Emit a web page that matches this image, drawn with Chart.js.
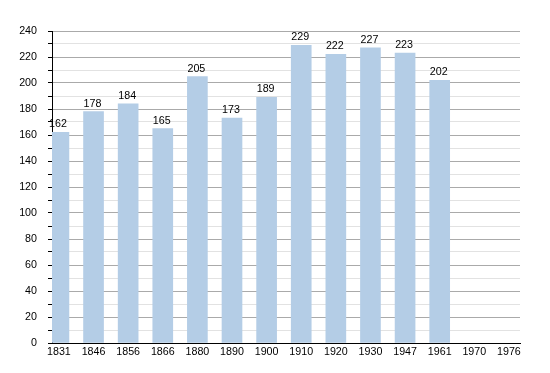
<!DOCTYPE html>
<html>
<head>
<meta charset="utf-8">
<script src="https://cdn.jsdelivr.net/npm/chart.js@4/dist/chart.umd.min.js"></script>
<style>
	html, body { margin: 0; padding: 0; background: #fff; }
	#wrap { width: 550px; height: 373px; }
</style>
</head>
<body>
<div id="wrap"><canvas id="chart"></canvas></div>
<script>
const years = ["1831", "1846", "1856", "1866", "1880", "1890", "1900", "1910", "1920", "1930", "1947", "1961", "1970", "1976"];
const population = [162, 178, 184, 165, 205, 173, 189, 229, 222, 227, 223, 202, null, null];
const yTicks = [0, 20, 40, 60, 80, 100, 120, 140, 160, 180, 200, 220, 240];

const points = years.map((y, i) => ({ x: i, y: population[i] }));
const FONT = "'Liberation Sans', Arial, sans-serif";

const valueLabels = {
	id: "valueLabels",
	afterDatasetsDraw(chart) {
		const ctx = chart.ctx;
		const meta = chart.getDatasetMeta(0);
		ctx.save();
		ctx.font = "10.7px " + FONT;
		ctx.fillStyle = "#000";
		ctx.textAlign = "center";
		ctx.textBaseline = "alphabetic";
		meta.data.forEach((bar, i) => {
			if (population[i] == null) return;
			ctx.fillText(String(population[i]), bar.x - 1, bar.y - 5);
		});
		ctx.restore();
	},
};

new Chart(document.getElementById("chart").getContext("2d"), {
	type: "bar",
	data: {
		datasets: [
			{
				data: points,
				backgroundColor: "#b4cde6",
				borderWidth: 0,
				barThickness: 20,
			},
		],
	},
	plugins: [valueLabels],
	options: {
		responsive: true,
		maintainAspectRatio: false,
		animation: false,
		layout: { padding: { top: 31, right: 30, left: 0, bottom: 0 } },
		plugins: {
			legend: { display: false },
			tooltip: { enabled: false },
		},
		scales: {
			x: {
				type: "linear",
				offset: false,
				min: -0.2,
				max: 13.32,
				afterFit: scale => { scale.height = 30; },
				grid: { display: false, drawTicks: false, offset: false },
				border: { color: "#000", width: 1 },
				ticks: {
					stepSize: 1,
					includeBounds: false,
					autoSkip: false,
					maxRotation: 0,
					padding: 3,
					color: "#000",
					font: { family: FONT, size: 10.7 },
					callback: v => (Number.isInteger(v) ? years[v] : ""),
				},
			},
			y: {
				min: 0,
				max: 240,
				afterFit: scale => { scale.width = 52; },
				border: { color: "#000", width: 1 },
				grid: {
					color: c => (c.tick.value % 20 === 0 ? "#aaaaaa" : "#e2e2e2"),
					tickColor: "#000",
					tickLength: 4,
				},
				ticks: {
					stepSize: 10,
					maxTicksLimit: 40,
					autoSkip: false,
					padding: 11,
					color: "#000",
					font: { family: FONT, size: 10.7 },
					callback: v => (yTicks.includes(v) ? String(v) : ""),
				},
			},
		},
	},
});
</script>
</body>
</html>
